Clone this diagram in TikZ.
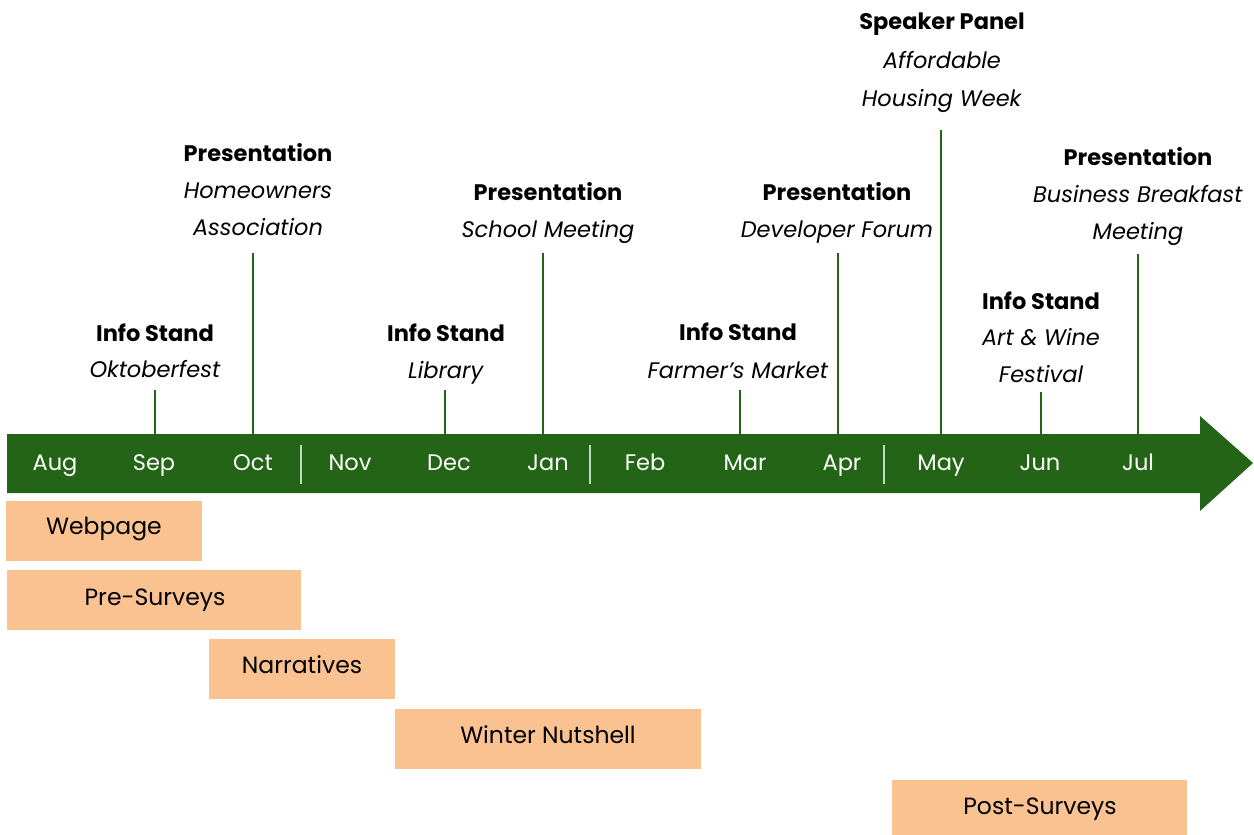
\documentclass[tikz,border=0pt]{standalone}
\usepackage{fontspec}
\setmainfont{Poppins}
\definecolor{band}{RGB}{36,100,22}
\definecolor{peach}{RGB}{249,194,144}
\definecolor{sep}{RGB}{200,215,195}
\begin{document}
\begin{tikzpicture}[x=1pt,y=-1pt,
  month/.style={text=white,font=\fontsize{22.5}{26}\selectfont,inner sep=0pt,text height=17pt,text depth=5pt},
  lbl/.style={inner sep=0pt,font=\fontsize{22.5}{26}\selectfont,text height=17pt,text depth=5pt},
  stem/.style={draw=band,line width=2.2pt},
  sepline/.style={draw=sep,line width=1.2pt},
  bartext/.style={inner sep=0pt,font=\fontsize{23.5}{26}\selectfont,text height=17pt,text depth=5pt}]
\useasboundingbox (0,0) rectangle (1254,835);
% band arrow
\fill[band] (7,434) -- (1200,434) -- (1200,416) -- (1253,463) -- (1200,511) -- (1200,493) -- (7,493) -- cycle;
\coordinate (bandtop) at (0,434);
% separators
\foreach \x/\n in {301/a,590/b,884/c}{
  \coordinate (s\n t) at (\x,445); \coordinate (s\n b) at (\x,484);
  \draw[sepline] (s\n t) -- (s\n b);}
% months
\foreach \x/\m in {55/Aug,154/Sep,253/Oct,350/Nov,449/Dec,548/Jan,645/Feb,745/Mar,842/Apr,941/May,1040/Jun,1138/Jul}{
  \node[month] (m\m) at (\x,464) {\m};}
% stems
\foreach \x/\y/\n in {155/390/1,253/253/2,445/390/3,543/253/4,740/390/5,838/253/6,941/130/7,1041/392/8,1138/254/9}{
  \coordinate (st\n) at (\x,\y);
  \draw[stem] (st\n) -- (st\n |- bandtop);}
% labels
\node[lbl] (l1a) at (155,335) {\textbf{Info Stand}};
\node[lbl] (l1b) at (155,371) {\textit{Oktoberfest}};
\node[lbl] (l2a) at (258,155) {\textbf{Presentation}};
\node[lbl] (l2b) at (258,192) {\textit{Homeowners}};
\node[lbl] (l2c) at (258,229) {\textit{Association}};
\node[lbl] (l3a) at (446,335) {\textbf{Info Stand}};
\node[lbl] (l3b) at (446,372) {\textit{Library}};
\node[lbl] (l4a) at (548,194) {\textbf{Presentation}};
\node[lbl] (l4b) at (548,231) {\textit{School Meeting}};
\node[lbl] (l5a) at (738,334) {\textbf{Info Stand}};
\node[lbl] (l5b) at (738,372) {\textit{Farmer’s Market}};
\node[lbl] (l6a) at (837,194) {\textbf{Presentation}};
\node[lbl] (l6b) at (837,231) {\textit{Developer Forum}};
\node[lbl] (l7a) at (942,24) {\textbf{Speaker Panel}};
\node[lbl] (l7b) at (942,62) {\textit{Affordable}};
\node[lbl] (l7c) at (942,100) {\textit{Housing Week}};
\node[lbl] (l8a) at (1041,303) {\textbf{Info Stand}};
\node[lbl] (l8b) at (1041,339) {\textit{Art \& Wine}};
\node[lbl] (l8c) at (1041,376) {\textit{Festival}};
\node[lbl] (l9a) at (1138,159) {\textbf{Presentation}};
\node[lbl] (l9b) at (1138,196) {\textit{Business Breakfast}};
\node[lbl] (l9c) at (1138,233) {\textit{Meeting}};
% bars
\fill[peach] (6,501) rectangle (202,561);
\node[bartext] (b1) at (104,528) {Webpage};
\fill[peach] (7,570) rectangle (301,630);
\node[bartext] (b2) at (155,599) {Pre-Surveys};
\fill[peach] (209,639) rectangle (395,699);
\node[bartext] (b3) at (302,667) {Narratives};
\fill[peach] (395,709) rectangle (701,769);
\node[bartext] (b4) at (548,737) {Winter Nutshell};
\fill[peach] (892,780) rectangle (1187,835);
\node[bartext] (b5) at (1040,808) {Post-Surveys};
\end{tikzpicture}
\end{document}
